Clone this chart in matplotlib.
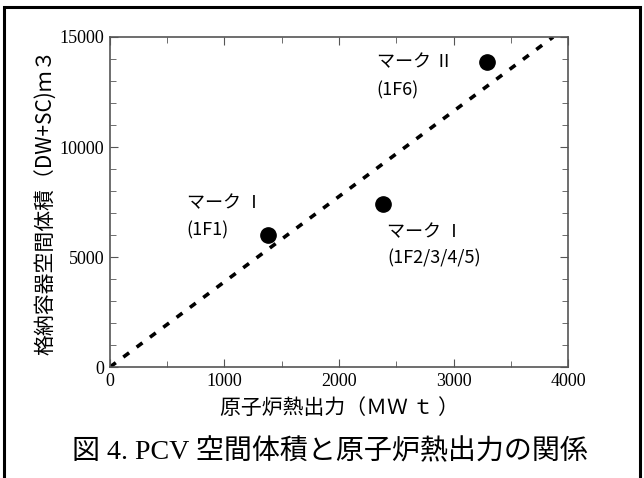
import matplotlib.pyplot as plt
from matplotlib.patches import Rectangle
from matplotlib.ticker import MultipleLocator

plt.rcParams['font.family'] = ['Noto Sans CJK JP', 'DejaVu Sans']

# thermal output (MWt) vs containment volume (m3)
power = [1380, 2380, 3290]
volume = [6000, 7400, 13850]
types = ["マーク Ⅰ", "マーク Ⅰ", "マーク Ⅱ"]
units = ["(1F1)", "(1F2/3/4/5)", "(1F6)"]
type_pos = [(670, 7450), (2420, 6130), (2330, 13860)]
unit_pos = [(670, 6230), (2420, 4950), (2330, 12590)]

# trend line through the origin
trend_x = [0, 3870]
trend_y = [0, 15000]

fig = plt.figure(figsize=(6.44, 4.78), dpi=100)
ax = fig.add_axes([0.1708, 0.2322, 0.7112, 0.6904])

ax.plot(trend_x, trend_y, color='black', lw=2.6, linestyle=(0, (2.0, 2.6)))
ax.plot(power, volume, 'o', color='black', markersize=11)
for txt, (tx, ty) in zip(types, type_pos):
    ax.text(tx, ty, txt, fontsize=13, ha='left', va='center')
for txt, (tx, ty) in zip(units, unit_pos):
    ax.text(tx, ty, txt, fontsize=13, ha='left', va='center')

ax.set_xlim(0, 4000)
ax.set_ylim(0, 15000)
ax.xaxis.set_major_locator(MultipleLocator(1000))
ax.xaxis.set_minor_locator(MultipleLocator(500))
ax.yaxis.set_major_locator(MultipleLocator(5000))
ax.yaxis.set_minor_locator(MultipleLocator(1000))
ax.tick_params(which='both', direction='in', top=True, right=True, color='#555555')
ax.tick_params(which='major', length=6, pad=4)
ax.tick_params(which='minor', length=4)
for lab in ax.get_xticklabels() + ax.get_yticklabels():
    lab.set_fontfamily('Liberation Serif')
    lab.set_fontsize(13)
for s in ax.spines.values():
    s.set_color('#555555')
    s.set_linewidth(1.2)

ax.set_xlabel("原子炉熱出力（ＭＷ ｔ ）", fontsize=15, labelpad=5)
ax.set_ylabel("格納容器空間体積（DW+SC)ｍ３", fontsize=15, labelpad=2)

fig.text(0.513, 0.055, "図 4. PCV 空間体積と原子炉熱出力の関係", ha='center', va='center',
         fontsize=20.2, family=['Liberation Serif', 'Noto Sans CJK JP'])

# outer frame
fig.patches.append(Rectangle((0.006, -0.02), 0.988, 1.005, transform=fig.transFigure,
                             fill=False, edgecolor='black', lw=2.2))

fig.savefig("out.png", dpi=100)
